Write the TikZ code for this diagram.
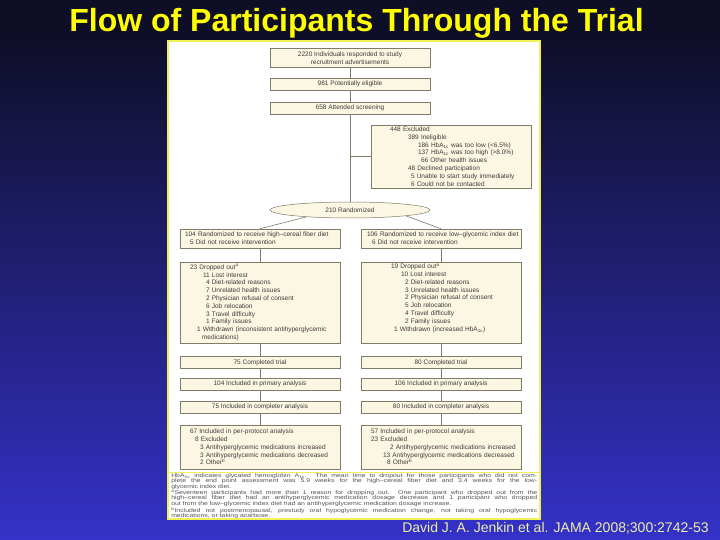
\documentclass[tikz,border=0pt]{standalone}
\usepackage{fontspec}
\setmainfont{Liberation Sans}
\usetikzlibrary{shapes.geometric}

\definecolor{slidetop}{RGB}{14,14,38}
\definecolor{slidebottom}{RGB}{52,50,200}
\definecolor{titleyellow}{RGB}{255,255,0}
\definecolor{citeyellow}{RGB}{238,238,170}
\definecolor{panelline}{RGB}{240,240,90}
\definecolor{boxfill}{RGB}{251,247,226}
\definecolor{boxline}{RGB}{128,122,104}
\definecolor{boxtext}{RGB}{60,60,60}
\definecolor{notetext}{RGB}{85,85,85}

\tikzset{every picture/.style={line width=0.5pt}}
\tikzset{
  flowbox/.style={draw=boxline, fill=boxfill, text=boxtext, minimum width=160pt, inner xsep=0pt, inner ysep=1pt, font=\fontsize{6.5}{7.8}\selectfont},
  listbox/.style={flowbox, text width=160pt, align=left},
  linebox/.style={flowbox, align=center, minimum height=12pt},
  link/.style={draw=boxline, line width=0.6pt},
}
\newcommand{\ind}[1]{\hspace*{#1pt}}
\newcommand{\hba}{HbA\textsubscript{1c}}

\begin{document}
\begin{tikzpicture}[x=1pt,y=1pt,yscale=-1,xscale=1]
\useasboundingbox (0,0) rectangle (720,540);

%Shape: Background
\fill[slidetop] (0,0) rectangle (720,32);
\shade[top color=slidetop, bottom color=slidebottom] (0,32) rectangle (720,540);
%Shape: Panel
\draw[panelline, fill=white, line width=1.2pt] (168,41) rectangle (540,519);
\draw[panelline, line width=1pt] (168,472) -- (540,472);

% Text Node
\node[anchor=base, text=titleyellow, font=\fontsize{32}{32}\selectfont\bfseries] (title) at (356.5,32) {Flow of Participants Through the Trial};

%Shape: Enrollment
\node[linebox, minimum height=19pt] (ads) at (350,58) {2220 Individuals responded to study\\recruitment advertisements};
\node[linebox] (eligible) at (350,84) {981 Potentially eligible};
\node[linebox] (screened) at (350,108) {658 Attended screening};
\node[listbox, minimum height=63pt] (excluded) at (451,156.5) {\ind{19}448 Excluded\\
\ind{37}389 Ineligible\\
\ind{47}186 \hba{} was too low (<6.5\%)\\
\ind{47}137 \hba{} was too high (>8.0\%)\\
\ind{50}66 Other health issues\\
\ind{37}48 Declined participation\\
\ind{40}5 Unable to start study immediately\\
\ind{40}6 Could not be contacted};
\node[ellipse, draw=boxline, fill=boxfill, text=boxtext, minimum width=160pt, minimum height=16pt, inner sep=0pt, font=\fontsize{6.5}{7.8}\selectfont] (rand) at (350,210) {210 Randomized};

%Shape: High-cereal fiber arm
\node[listbox, minimum height=19pt] (fiberArm) at (260,238.5) {\ind{5}104 Randomized to receive high--cereal fiber diet\\
\ind{10}5 Did not receive intervention};
\node[listbox, minimum height=81pt] (fiberDrop) at (260,302.5) {\ind{10}23 Dropped out\textsuperscript{a}\\
\ind{23}11 Lost interest\\
\ind{26}4 Diet-related reasons\\
\ind{26}7 Unrelated health issues\\
\ind{26}2 Physician refusal of consent\\
\ind{26}6 Job relocation\\
\ind{26}3 Travel difficulty\\
\ind{26}1 Family issues\\
\ind{17}1 Withdrawn (inconsistent antihyperglycemic\\
\ind{22}medications)};
\node[linebox] (fiberDone) at (260,362.5) {75 Completed trial};
\node[linebox] (fiberPrimary) at (260,384) {104 Included in primary analysis};
\node[linebox] (fiberCompleter) at (260,407) {75 Included in completer analysis};
\node[listbox, minimum height=44pt] (fiberProtocol) at (260,447) {\ind{10}67 Included in per-protocol analysis\\
\ind{15}8 Excluded\\
\ind{20}3 Antihyperglycemic medications increased\\
\ind{20}3 Antihyperglycemic medications decreased\\
\ind{20}2 Other\textsuperscript{b}};

%Shape: Low-glycemic index arm
\node[listbox, minimum height=19pt] (glyArm) at (441,238.5) {\ind{6}106 Randomized to receive low--glycemic index diet\\
\ind{11}6 Did not receive intervention};
\node[listbox, minimum height=81pt] (glyDrop) at (441,302.5) {\ind{30}19 Dropped out\textsuperscript{a}\\
\ind{40}10 Lost interest\\
\ind{44}2 Diet-related reasons\\
\ind{44}3 Unrelated health issues\\
\ind{44}2 Physician refusal of consent\\
\ind{44}5 Job relocation\\
\ind{44}4 Travel difficulty\\
\ind{44}2 Family issues\\
\ind{33}1 Withdrawn (increased \hba)\\
\strut};
\node[linebox] (glyDone) at (441,362.5) {80 Completed trial};
\node[linebox] (glyPrimary) at (441,384) {106 Included in primary analysis};
\node[linebox] (glyCompleter) at (441,407) {80 Included in completer analysis};
\node[listbox, minimum height=44pt] (glyProtocol) at (441,447) {\ind{10}57 Included in per-protocol analysis\\
\ind{10}23 Excluded\\
\ind{29}2 Antihyperglycemic medications increased\\
\ind{22}13 Antihyperglycemic medications decreased\\
\ind{26}8 Other\textsuperscript{b}};

%Straight Lines
\draw[link] (ads) -- (eligible);
\draw[link] (eligible) -- (screened);
\draw[link] (screened) -- (rand);
\draw[link] (screened |- excluded) -- (excluded);
\draw[link] (rand.-171) -- (fiberArm.north);
\draw[link] (rand.-6) -- (glyArm.north);
\draw[link] (fiberArm) -- (fiberDrop);
\draw[link] (fiberDrop) -- (fiberDone);
\draw[link] (fiberDone) -- (fiberPrimary);
\draw[link] (fiberPrimary) -- (fiberCompleter);
\draw[link] (fiberCompleter) -- (fiberProtocol);
\draw[link] (glyArm) -- (glyDrop);
\draw[link] (glyDrop) -- (glyDone);
\draw[link] (glyDone) -- (glyPrimary);
\draw[link] (glyPrimary) -- (glyCompleter);
\draw[link] (glyCompleter) -- (glyProtocol);

% Text Node
\node[anchor=north west, inner sep=0pt, text=notetext] (notes) at (171,473) {\scalebox{1.25}[1]{\parbox{292.8pt}{\fontsize{5.5}{5.6}\selectfont
\hba{} indicates glycated hemoglobin A\textsubscript{1c}. The mean time to dropout for those participants who did not com-\linebreak plete the end point assessment was 5.9 weeks for the high--cereal fiber diet and 3.4 weeks for the low-\linebreak glycemic index diet.\par
\textsuperscript{a}Seventeen participants had more than 1 reason for dropping out. One participant who dropped out from the\linebreak high--cereal fiber diet had an antihyperglycemic medication dosage decrease and 1 participant who dropped\linebreak out from the low--glycemic index diet had an antihyperglycemic medication dosage increase.\par
\textsuperscript{b}Included not postmenopausal, prestudy oral hypoglycemic medication change, not taking oral hypoglycemic\linebreak medications, or taking acarbose.}}};

% Text Node
\node[anchor=base west, inner sep=0pt, text=citeyellow, font=\fontsize{14}{14}\selectfont] (cite) at (402,532) {David J. A. Jenkin et al. JAMA 2008;300:2742-53};

\end{tikzpicture}
\end{document}
